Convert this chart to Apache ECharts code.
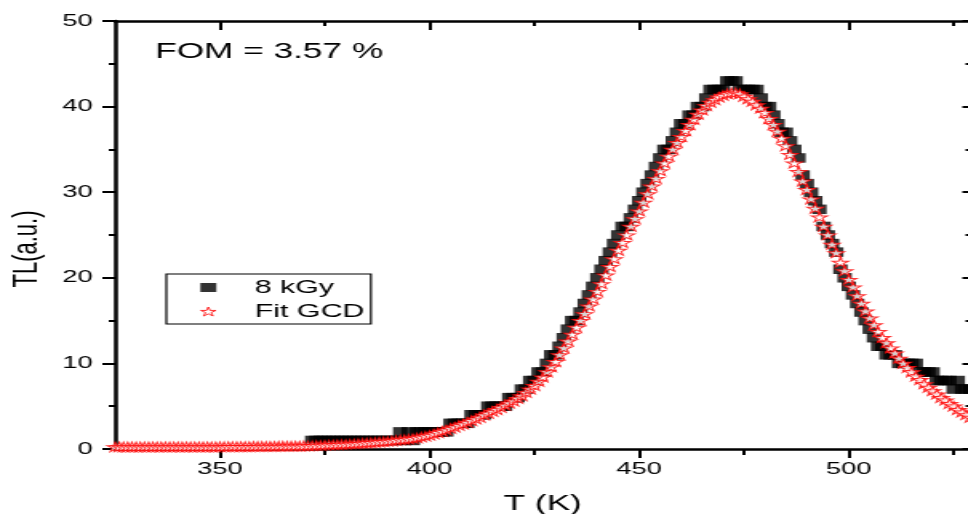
<!DOCTYPE html>
<html><head><meta charset="utf-8">
<script src="https://cdn.jsdelivr.net/npm/echarts@6/dist/echarts.min.js"></script>
<style>
html,body{margin:0;padding:0;background:#fff;overflow:hidden;}
#wrap{width:968px;height:514px;overflow:hidden;position:relative;background:#fff;}
#chart{width:605px;height:514px;transform:scaleX(1.6);transform-origin:0 0;}
</style></head><body>
<div id="wrap"><div id="chart"></div></div>
<script>
// Fit GCD curve: temperature (K) and TL (a.u.)
const tempFit = [325,326,327,328,329,330,331,332,333,334,335,336,337,338,339,340,341,342,343,344,345,346,347,348,349,
350,351,352,353,354,355,356,357,358,359,360,361,362,363,364,365,366,367,368,369,
370,371,372,373,374,375,376,377,378,379,380,381,382,383,384,385,386,387,388,389,
390,391,392,393,394,395,396,397,398,399,400,401,402,403,404,405,406,407,408,409,
410,411,412,413,414,415,416,417,418,419,420,421,422,423,424,425,426,427,428,429,
430,431,432,433,434,435,436,437,438,439,440,441,442,443,444,445,446,447,448,449,
450,451,452,453,454,455,456,457,458,459,460,461,462,463,464,465,466,467,468,469,
470,471,472,473,474,475,476,477,478,479,480,481,482,483,484,485,486,487,488,489,
490,491,492,493,494,495,496,497,498,499,500,501,502,503,504,505,506,507,508,509,
510,511,512,513,514,515,516,517,518,519,520,521,522,523,524,525,526,527,528,529];
const fitTL = [0.25,0.25,0.25,0.25,0.25,0.25,0.25,0.25,0.25,0.25,0.25,0.25,0.25,0.25,0.25,0.25,0.25,0.25,0.25,0.25,0.25,0.25,0.25,0.25,0.25,
0.26,0.26,0.27,0.27,0.27,0.28,0.28,0.28,0.29,0.29,
0.3,0.3,0.31,0.31,0.32,0.32,0.33,0.33,0.34,0.34,
0.35,0.37,0.39,0.41,0.43,0.45,0.47,0.49,0.51,0.53,
0.55,0.58,0.61,0.64,0.67,0.7,0.74,0.78,0.82,0.86,
0.9,0.95,1.0,1.06,1.1,1.15,1.22,1.3,1.4,1.5,
1.6,1.75,1.9,2.05,2.2,2.4,2.55,2.75,2.9,3.1,
3.3,3.5,3.7,3.95,4.15,4.4,4.6,4.85,5.1,5.35,
5.6,5.9,6.2,6.6,7.0,7.4,7.9,8.4,9.0,9.6,
10.2,11.0,11.8,12.6,13.4,14.2,15.0,15.8,16.7,17.5,
18.4,19.3,20.3,21.3,22.2,23.2,24.1,25.0,26.0,26.9,
27.8,28.8,29.8,30.7,31.6,32.5,33.4,34.2,35.0,35.8,
36.5,37.2,37.9,38.5,39.1,39.6,40.1,40.5,40.8,41.1,
41.3,41.5,41.6,41.6,41.5,41.2,40.9,40.6,40.2,39.8,
39.3,38.6,37.9,37.1,36.3,35.4,34.4,33.4,32.4,31.3,
30.3,29.2,28.1,27.1,26.0,25.0,23.9,22.9,21.8,20.8,
19.8,18.9,17.9,17.0,16.1,15.3,14.5,13.7,13.0,12.4,
11.8,11.2,10.6,10.0,9.5,9.0,8.5,8.1,7.6,7.2,
6.8,6.4,6.0,5.7,5.3,5.0,4.6,4.3,4.0,3.7];

// Measured glow curve (8 kGy)
const tempExp = [372,373,374,375,376,377,378,379,380,381,382,383,384,385,386,387,388,389,
390,391,392,393,394,395,396,397,398,399,400,401,402,403,404,405,406,407,408,409,
410,411,412,413,414,415,416,417,418,419,420,421,422,423,424,425,426,427,428,429,
430,431,432,433,434,435,436,437,438,439,440,441,442,443,444,445,446,447,448,449,
450,451,452,453,454,455,456,457,458,459,460,461,462,463,464,465,466,467,468,469,
470,471,472,473,474,475,476,477,478,479,480,481,482,483,484,485,486,487,488,489,
490,491,492,493,494,495,496,497,498,499,500,501,502,503,504,505,506,507,508,509,
510,511,512,513,514,515,516,517,518,519,520,521,522,523,524,525,526,527,528,529];
const expTL = [1,1,1,1,1,1,1,1,1,1,1,1,1,1,1,1,1,1,
1,1,1,2,1,2,1,2,2,2,2,2,2,2,2,3,3,3,3,3,
4,4,4,4,5,5,5,5,5,6,6,6,7,7,8,8,9,9,10,11,
11,12,13,14,15,15,16,17,18,19,20,21,22,23,24,25,26,26,27,28,
29,30,31,32,33,34,35,35,36,37,38,38,39,39,40,40,41,42,42,42,
42,43,43,43,42,42,42,42,42,41,40,40,39,38,37,37,36,35,34,32,
31,30,29,28,26,25,24,23,21,20,19,18,17,16,15,14,13,12,12,11,
11,11,10,10,10,10,10,9,9,9,9,8,8,8,8,7,8,7,7,7];

const xMajorTicks = [350,400,450,500];
const xMinorTicks = [375,425,475,525];
const yTickLabels = [0,10,20,30,40,50];

const FONT = '"Liberation Sans", Arial, sans-serif';
const STAR = 'path://M50 0 L61.23 34.55 L97.55 34.55 L68.16 55.9 L79.39 90.45 L50 69.1 L20.61 90.45 L31.84 55.9 L2.45 34.55 L38.77 34.55 Z';

const chart = echarts.init(document.getElementById('chart'), null, {renderer:'canvas'});

function xAxisBase(extra){
  return Object.assign({
    type:'value', gridIndex:0, min:325, max:529, interval:25,
    splitLine:{show:false},
    axisLine:{show:false, onZero:false},
    axisLabel:{show:false},
    axisTick:{show:false}
  }, extra);
}

const option = {
  animation:false,
  backgroundColor:'#fff',
  grid:{left:72, top:21, width:534.5, height:428, containLabel:false, outerBoundsMode:'none'},
  xAxis:[
    xAxisBase({
      position:'bottom',
      axisLine:{show:true, onZero:false, lineStyle:{color:'#000', width:2.5}},
      axisTick:{show:true, inside:false, length:9, customValues:xMajorTicks, lineStyle:{color:'#000', width:2}},
      axisLabel:{show:true, customValues:xMajorTicks, margin:12, color:'#000', fontSize:17, fontFamily:FONT,
        formatter:function(v){ return xMajorTicks.indexOf(v) >= 0 ? String(v) : ''; }},
      name:'T (K)', nameLocation:'middle', nameGap:44,
      nameTextStyle:{color:'#000', fontSize:22, fontFamily:FONT}
    }),
    xAxisBase({
      position:'bottom',
      axisTick:{show:true, inside:false, length:6, customValues:xMinorTicks, lineStyle:{color:'#000', width:2}}
    }),
    xAxisBase({
      position:'top',
      axisLine:{show:true, onZero:false, lineStyle:{color:'#000', width:2.5}},
      axisTick:{show:true, inside:true, length:9, customValues:xMajorTicks, lineStyle:{color:'#000', width:2}}
    }),
    xAxisBase({
      position:'top',
      axisTick:{show:true, inside:true, length:5, customValues:xMinorTicks, lineStyle:{color:'#000', width:2}}
    })
  ],
  yAxis:[
    {
      type:'value', position:'left', min:0, max:50, interval:10,
      splitLine:{show:false},
      axisLine:{show:true, onZero:false, lineStyle:{color:'#000', width:2.5}},
      axisTick:{show:true, inside:false, length:8, lineStyle:{color:'#000', width:2}},
      minorTick:{show:true, splitNumber:2, length:4, lineStyle:{color:'#000', width:2}},
      axisLabel:{show:true, margin:14, color:'#000', fontSize:17, fontFamily:FONT,
        formatter:function(v){ return yTickLabels.indexOf(v) >= 0 ? String(v) : ''; }},
      name:'TL(a.u.)', nameLocation:'middle', nameGap:42,
      nameTextStyle:{color:'#000', fontSize:22, fontFamily:FONT, padding:[0,28,0,0]}
    },
    {
      type:'value', position:'right', min:0, max:50, interval:10,
      splitLine:{show:false},
      axisLine:{show:true, onZero:false, lineStyle:{color:'#000', width:2.5}},
      axisTick:{show:true, inside:true, length:5, lineStyle:{color:'#000', width:2}},
      minorTick:{show:true, splitNumber:2, length:3, lineStyle:{color:'#000', width:2}},
      axisLabel:{show:false}
    }
  ],
  legend:{
    orient:'vertical', left:104, top:274,
    padding:[4,4,3,21], itemGap:5, itemWidth:10, itemHeight:9,
    borderColor:'#000', borderWidth:1.2, backgroundColor:'#fff',
    selectedMode:false,
    textStyle:{color:'#000', fontSize:19, fontFamily:FONT, lineHeight:19, padding:[0,0,0,19]},
    data:[
      {name:'8 kGy', icon:'rect', itemStyle:{color:'#000'}},
      {name:'Fit GCD', icon:STAR, itemStyle:{color:'#fff', borderColor:'#ff0000', borderWidth:1}}
    ]
  },
  graphic:[
    {type:'text', left:97, top:41, z:10,
     style:{text:'FOM = 3.57 %', font:'22px ' + FONT, fill:'#000'}}
  ],
  series:[
    {
      name:'8 kGy', type:'scatter', xAxisIndex:0, yAxisIndex:0,
      data: tempExp.map(function(t,i){ return [t, expTL[i]]; }),
      symbol:'rect', symbolSize:[9,9.5],
      itemStyle:{color:'#000'}, z:2, silent:true
    },
    {
      name:'Fit GCD', type:'scatter', xAxisIndex:0, yAxisIndex:0,
      data: tempFit.map(function(t,i){ return [t, fitTL[i]]; }),
      symbol:STAR, symbolSize:[10,9.5],
      itemStyle:{color:'#fff', borderColor:'#ff0000', borderWidth:1}, z:3, silent:true
    }
  ]
};
chart.setOption(option);
</script>
</body></html>
